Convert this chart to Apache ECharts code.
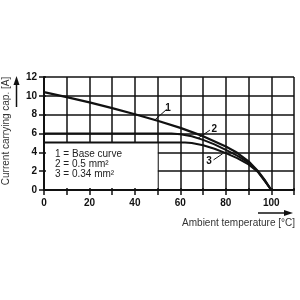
<!DOCTYPE html>
<html><head><meta charset="utf-8">
<script src="https://cdn.jsdelivr.net/npm/echarts@6/dist/echarts.min.js"></script>
<style>html,body{margin:0;padding:0;background:#fff}#c{width:300px;height:300px}</style>
</head><body><div id="c"></div>
<script>
// Base curve (1)
const temp1 = [0, 10, 20, 30, 40, 50, 60, 70, 80, 85, 90, 94, 97, 100];
const curve1 = [10.4, 9.87, 9.3, 8.7, 8.05, 7.35, 6.6, 5.72, 4.62, 3.95, 3.05, 2.05, 1.1, 0];
// 0.5 mm² (2)
const temp2 = [0, 56, 60, 65, 70, 75, 80, 85, 90, 94, 97, 100];
const curve2 = [6.0, 6.0, 5.92, 5.7, 5.32, 4.85, 4.27, 3.65, 2.9, 2.0, 1.05, 0];
// 0.34 mm² (3)
const temp3 = [0, 62, 65, 70, 75, 80, 85, 90, 94, 97, 100];
const curve3 = [5.05, 5.05, 4.98, 4.75, 4.38, 3.92, 3.38, 2.72, 1.95, 1.0, 0];
const legendLines = ['1 = Base curve', '2 = 0.5 mm\u00b2', '3 = 0.34 mm\u00b2'];
const xTitle = 'Ambient temperature [\u00b0C]';
const yTitle = 'Current carrying cap. [A]';

const zip = (a, b) => a.map((v, i) => [v, b[i]]);
const chart = echarts.init(document.getElementById('c'));
const font = 'Liberation Sans, Arial, sans-serif';
const xBase = {type: 'value', min: 0, max: 110, interval: 10, gridIndex: 0, position: 'bottom'};
const yBase = {type: 'value', min: 0, max: 12, interval: 2, gridIndex: 0, position: 'left'};
const lineStyleBase = {color: '#111', width: 2};

chart.setOption({
  animation: false,
  grid: {left: 44, right: 6, top: 77, bottom: 110},
  xAxis: [
    Object.assign({}, xBase, {z: 0, axisLine: {show: false, onZero: false}, axisTick: {show: false}, axisLabel: {show: false},
      splitLine: {show: true, lineStyle: {color: '#111', width: 1.5}}}),
    Object.assign({}, xBase, {z: 5, axisLine: {show: true, onZero: false, lineStyle: {color: '#111', width: 2}},
      axisTick: {show: true, length: 5, lineStyle: {color: '#111', width: 1.5}},
      axisLabel: {show: true, margin: 8, color: '#111', fontSize: 10, fontWeight: 'bold', fontFamily: font,
        formatter: v => (v % 20 === 0 && v <= 100) ? String(v) : ''},
      splitLine: {show: false}}),
    Object.assign({}, xBase, {z: 5, axisLine: {show: false, onZero: false},
      axisTick: {show: true, inside: true, length: 2, lineStyle: {color: '#111', width: 1.5}},
      axisLabel: {show: false}, splitLine: {show: false}})
  ],
  yAxis: [
    Object.assign({}, yBase, {z: 0, axisLine: {show: false, onZero: false}, axisTick: {show: false}, axisLabel: {show: false},
      splitLine: {show: true, lineStyle: {color: '#111', width: 1.5}}}),
    Object.assign({}, yBase, {z: 5, axisLine: {show: true, onZero: false, lineStyle: {color: '#111', width: 2}},
      axisTick: {show: true, length: 5, lineStyle: {color: '#111', width: 1.5}},
      axisLabel: {show: true, margin: 7, color: '#111', fontSize: 10, fontWeight: 'bold', fontFamily: font},
      splitLine: {show: false}}),
    Object.assign({}, yBase, {z: 5, axisLine: {show: false, onZero: false},
      axisTick: {show: true, inside: true, length: 2, lineStyle: {color: '#111', width: 1.5}},
      axisLabel: {show: false}, splitLine: {show: false}})
  ],
  series: [
    {type: 'line', data: [], z: 1, silent: true,
      markArea: {silent: true, itemStyle: {color: '#fff', opacity: 1},
        data: [[{coord: [0, 0]}, {coord: [50, curve3[0]]}]]}},
    {type: 'line', name: '1', data: zip(temp1, curve1), z: 3, symbol: 'none', smooth: false,
      lineStyle: {color: '#111', width: 2.2},
      markLine: {silent: true, symbol: 'none', lineStyle: {color: '#111', width: 1, type: 'solid'},
        label: {show: true, position: 'end', distance: 2, color: '#111', fontSize: 10, fontWeight: 'bold', fontFamily: font},
        data: [
          [{coord: [48.8, 7.45]}, {coord: [53.9, 8.55], label: {formatter: '1'}}],
          [{coord: [67.8, 5.5]}, {coord: [73, 6.36], label: {formatter: '2'}}],
          [{coord: [78.6, 3.85]}, {coord: [74.6, 3.2], label: {formatter: '3'}}]
        ]}},
    {type: 'line', name: '2', data: zip(temp2, curve2), z: 3, symbol: 'none', smooth: false,
      lineStyle: lineStyleBase},
    {type: 'line', name: '3', data: zip(temp3, curve3), z: 3, symbol: 'none', smooth: false,
      lineStyle: lineStyleBase}
  ],
  graphic: [
    {type: 'text', x: 55, y: 154, z: 10, style: {text: legendLines[0], fill: '#222', font: '10px ' + font, verticalAlign: 'middle'}},
    {type: 'text', x: 55, y: 164.3, z: 10, style: {text: legendLines[1], fill: '#222', font: '10px ' + font, verticalAlign: 'middle'}},
    {type: 'text', x: 55, y: 174.6, z: 10, style: {text: legendLines[2], fill: '#222', font: '10px ' + font, verticalAlign: 'middle'}},
    {type: 'text', x: 6, y: 131, rotation: Math.PI / 2, z: 10,
      style: {text: yTitle, fill: '#333', font: '10px ' + font, align: 'center', verticalAlign: 'middle'}},
    {type: 'text', x: 295, y: 223, z: 10,
      style: {text: xTitle, fill: '#333', font: '10px ' + font, align: 'right', verticalAlign: 'middle'}},
    {type: 'line', z: 10, shape: {x1: 16.5, y1: 107, x2: 16.5, y2: 83}, style: {stroke: '#111', lineWidth: 1.5}},
    {type: 'polygon', z: 10, shape: {points: [[16.5, 76], [13.5, 85], [19.5, 85]]}, style: {fill: '#111'}},
    {type: 'line', z: 10, shape: {x1: 258, y1: 213, x2: 286, y2: 213}, style: {stroke: '#111', lineWidth: 1.5}},
    {type: 'polygon', z: 10, shape: {points: [[293, 213], [284, 210], [284, 216]]}, style: {fill: '#111'}}
  ]
});
</script></body></html>
